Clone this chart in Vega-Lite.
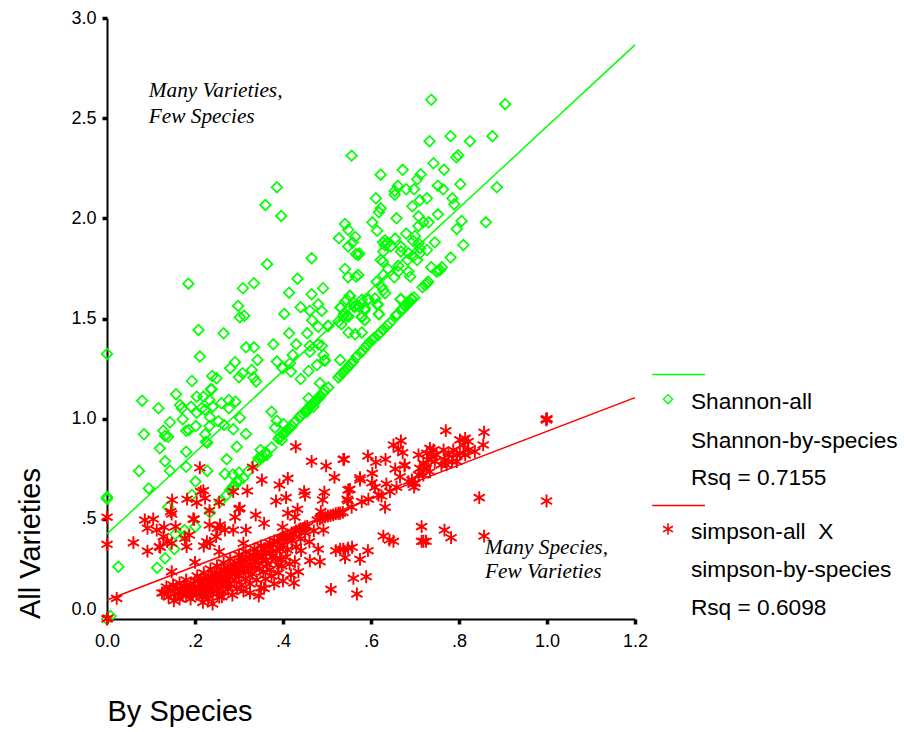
{"$schema":"https://vega.github.io/schema/vega-lite/v6.json","width":528,"height":601,"autosize":"none","padding":{"left":107,"top":18,"right":269,"bottom":113},"background":"white","config":{"view":{"stroke":null}},
"datasets":{
"fitGreen":[{"x":0,"y":0.424},{"x":1.2,"y":2.866}],
"fitRed":[{"x":0,"y":0.095},{"x":1.2,"y":1.105}],
"keyGreen":[{"x":1.239,"y":1.22},{"x":1.359,"y":1.22}],
"keyRed":[{"x":1.239,"y":0.567},{"x":1.359,"y":0.567}],
"keyGreenPt":[{"x":1.275,"y":1.097}],
"keyRedPt":[{"x":1.275,"y":0.449}],
"legendText":[{"x":1.327,"y":1.083,"t":"Shannon-all"},{"x":1.327,"y":0.889,"t":"Shannon-by-species"},{"x":1.327,"y":0.704,"t":"Rsq = 0.7155"},{"x":1.327,"y":0.434,"t":"simpson-all\u00a0 X"},{"x":1.327,"y":0.245,"t":"simpson-by-species"},{"x":1.327,"y":0.055,"t":"Rsq = 0.6098"}],
"notes":[{"x":0.095,"y":2.636,"t":"Many Varieties,"},{"x":0.095,"y":2.506,"t":"Few Species"},{"x":0.859,"y":0.354,"t":"Many Species,"},{"x":0.859,"y":0.235,"t":"Few Varieties"}],
"green":[{"x":0.737,"y":2.592},{"x":0.905,"y":2.57},{"x":0.876,"y":2.41},{"x":0.781,"y":2.41},{"x":0.733,"y":2.385},{"x":0.825,"y":2.385},{"x":0.798,"y":2.315},{"x":0.794,"y":2.305},{"x":0.556,"y":2.313},{"x":0.742,"y":2.275},{"x":0.672,"y":2.242},{"x":0.766,"y":2.242},{"x":0.622,"y":2.218},{"x":0.713,"y":2.22},{"x":0.705,"y":2.195},{"x":0.886,"y":2.155},{"x":0.803,"y":2.17},{"x":0.752,"y":2.163},{"x":0.764,"y":2.145},{"x":0.661,"y":2.162},{"x":0.654,"y":2.137},{"x":0.654,"y":2.118},{"x":0.68,"y":2.145},{"x":0.698,"y":2.145},{"x":0.611,"y":2.1},{"x":0.727,"y":2.1},{"x":0.711,"y":2.09},{"x":0.785,"y":2.1},{"x":0.789,"y":2.07},{"x":0.694,"y":2.06},{"x":0.622,"y":2.05},{"x":0.618,"y":2.03},{"x":0.752,"y":2.02},{"x":0.708,"y":2.01},{"x":0.658,"y":2.0},{"x":0.806,"y":1.987},{"x":0.861,"y":1.98},{"x":0.541,"y":1.972},{"x":0.548,"y":1.943},{"x":0.603,"y":1.98},{"x":0.614,"y":1.938},{"x":0.731,"y":1.98},{"x":0.719,"y":1.98},{"x":0.708,"y":1.962},{"x":0.795,"y":1.947},{"x":0.527,"y":1.9},{"x":0.564,"y":1.907},{"x":0.558,"y":1.879},{"x":0.548,"y":1.859},{"x":0.68,"y":1.924},{"x":0.7,"y":1.912},{"x":0.696,"y":1.887},{"x":0.708,"y":1.876},{"x":0.711,"y":1.851},{"x":0.655,"y":1.899},{"x":0.627,"y":1.88},{"x":0.632,"y":1.89},{"x":0.636,"y":1.875},{"x":0.645,"y":1.86},{"x":0.632,"y":1.865},{"x":0.745,"y":1.88},{"x":0.81,"y":1.867},{"x":0.668,"y":1.859},{"x":0.668,"y":1.834},{"x":0.727,"y":1.842},{"x":0.711,"y":1.826},{"x":0.696,"y":1.809},{"x":0.705,"y":1.792},{"x":0.628,"y":1.834},{"x":0.622,"y":1.792},{"x":0.627,"y":1.784},{"x":0.781,"y":1.804},{"x":0.685,"y":1.826},{"x":0.683,"y":1.792},{"x":0.571,"y":1.817},{"x":0.566,"y":1.822},{"x":0.573,"y":1.825},{"x":0.541,"y":1.747},{"x":0.737,"y":1.756},{"x":0.757,"y":1.742},{"x":0.749,"y":1.734},{"x":0.761,"y":1.756},{"x":0.753,"y":1.738},{"x":0.662,"y":1.763},{"x":0.662,"y":1.734},{"x":0.639,"y":1.747},{"x":0.685,"y":1.734},{"x":0.689,"y":1.709},{"x":0.571,"y":1.717},{"x":0.566,"y":1.709},{"x":0.548,"y":1.706},{"x":0.628,"y":1.717},{"x":0.653,"y":1.706},{"x":0.73,"y":1.684},{"x":0.723,"y":1.667},{"x":0.717,"y":1.656},{"x":0.727,"y":1.675},{"x":0.613,"y":1.684},{"x":0.624,"y":1.659},{"x":0.632,"y":1.626},{"x":0.628,"y":1.642},{"x":0.552,"y":1.612},{"x":0.541,"y":1.584},{"x":0.531,"y":1.554},{"x":0.539,"y":1.526},{"x":0.594,"y":1.596},{"x":0.609,"y":1.6},{"x":0.615,"y":1.568},{"x":0.618,"y":1.521},{"x":0.561,"y":1.559},{"x":0.573,"y":1.559},{"x":0.586,"y":1.543},{"x":0.579,"y":1.506},{"x":0.545,"y":1.513},{"x":0.667,"y":1.596},{"x":0.692,"y":1.598},{"x":0.685,"y":1.584},{"x":0.677,"y":1.568},{"x":0.67,"y":1.546},{"x":0.658,"y":1.518},
{"x":0.386,"y":2.155},{"x":0.36,"y":2.067},{"x":0.396,"y":2.012},{"x":0.185,"y":1.674},{"x":0.364,"y":1.771},{"x":0.465,"y":1.801},{"x":0.433,"y":1.699},{"x":0.334,"y":1.676},{"x":0.309,"y":1.651},{"x":0.414,"y":1.629},{"x":0.465,"y":1.621},{"x":0.491,"y":1.651},{"x":0.298,"y":1.563},{"x":0.312,"y":1.514},{"x":0.302,"y":1.506},{"x":0.44,"y":1.556},{"x":0.48,"y":1.571},{"x":0.461,"y":1.539},{"x":0.488,"y":1.538},{"x":0.403,"y":1.523},{"x":0.466,"y":1.491},{"x":0.48,"y":1.459},{"x":0.208,"y":1.443},{"x":0.265,"y":1.426},{"x":0.414,"y":1.426},{"x":0.455,"y":1.426},{"x":0.502,"y":1.464},{"x":0.316,"y":1.356},{"x":0.334,"y":1.356},{"x":0.378,"y":1.371},{"x":0.43,"y":1.371},{"x":0.461,"y":1.364},{"x":0.48,"y":1.371},{"x":0.488,"y":1.364},{"x":0.211,"y":1.31},{"x":0.422,"y":1.318},{"x":0.461,"y":1.334},{"x":0,"y":1.323},{"x":0.492,"y":1.318},{"x":0.495,"y":1.293},{"x":0.477,"y":1.268},{"x":0.458,"y":1.238},{"x":0.416,"y":1.277},{"x":0.418,"y":1.235},{"x":0.399,"y":1.252},{"x":0.386,"y":1.285},{"x":0.44,"y":1.198},{"x":0.342,"y":1.293},{"x":0.329,"y":1.243},{"x":0.333,"y":1.205},{"x":0.339,"y":1.185},{"x":0.308,"y":1.227},{"x":0.3,"y":1.207},{"x":0.28,"y":1.252},{"x":0.291,"y":1.282},{"x":0.249,"y":1.202},{"x":0.239,"y":1.213},{"x":0.236,"y":1.147},{"x":0.193,"y":1.188},{"x":0.157,"y":1.122},{"x":0.08,"y":1.09},{"x":0.117,"y":1.052},{"x":0.143,"y":0.982},{"x":0.128,"y":0.94},{"x":0.132,"y":0.914},{"x":0.139,"y":0.91},{"x":0.084,"y":0.922},{"x":0.12,"y":0.852},{"x":0.18,"y":0.94},{"x":0.186,"y":0.944},{"x":0.202,"y":0.963},{"x":0.172,"y":0.997},{"x":0.166,"y":1.068},{"x":0.17,"y":1.052},{"x":0.191,"y":1.06},{"x":0.204,"y":1.11},{"x":0.204,"y":1.03},{"x":0.219,"y":1.11},{"x":0.223,"y":1.045},{"x":0.215,"y":1.052},{"x":0.233,"y":1.093},{"x":0.238,"y":1.147},{"x":0.234,"y":1.007},{"x":0.233,"y":0.963},{"x":0.24,"y":1.06},{"x":0.253,"y":0.987},{"x":0.26,"y":1.077},{"x":0.277,"y":1.093},{"x":0.277,"y":1.052},{"x":0.292,"y":1.085},{"x":0.266,"y":0.968},{"x":0.223,"y":0.922},{"x":0.225,"y":0.885},{"x":0.228,"y":0.88},{"x":0.287,"y":0.947},{"x":0.302,"y":1.005},{"x":0.316,"y":0.924},{"x":0.295,"y":0.86},{"x":0.272,"y":0.797},{"x":0.18,"y":0.835},{"x":0.132,"y":0.787},{"x":0.143,"y":0.74},{"x":0.18,"y":0.76},{"x":0.073,"y":0.739},{"x":0.095,"y":0.652},{"x":0.228,"y":0.739},{"x":0.268,"y":0.724},{"x":0.201,"y":0.686},{"x":0.286,"y":0.721},{"x":0.3,"y":0.731},{"x":0.31,"y":0.705},{"x":0.295,"y":0.686},{"x":0.287,"y":0.664},{"x":0.272,"y":0.619},{"x":0.257,"y":0.586},{"x":0.234,"y":0.531},{"x":0.193,"y":0.619},{"x":0,"y":0.609},{"x":0,"y":0.6},{"x":0.139,"y":0.558},{"x":0.201,"y":0.461},{"x":0.176,"y":0.444},{"x":0.155,"y":0.423},{"x":0.176,"y":0.414},{"x":0.153,"y":0.349},{"x":0.132,"y":0.303},{"x":0.114,"y":0.256},{"x":0.026,"y":0.261},{"x":0.008,"y":0.015},{"x":0,"y":0},
{"x":0.344,"y":0.802},{"x":0.355,"y":0.81},{"x":0.349,"y":0.844},{"x":0.363,"y":0.819},{"x":0.374,"y":0.856},{"x":0.397,"y":0.894},{"x":0.393,"y":0.91},{"x":0.402,"y":0.924},{"x":0.401,"y":0.974},{"x":0.386,"y":0.99},{"x":0.382,"y":0.955},{"x":0.42,"y":0.963},{"x":0.374,"y":1.035},{"x":0.458,"y":1.102},{"x":0.439,"y":1.01},{"x":0.454,"y":1.035},{"x":0.469,"y":1.06},{"x":0.484,"y":1.177},{"x":0.503,"y":1.155},{"x":0.484,"y":1.11},{"x":0.477,"y":1.093},
{"x":0.552,"y":1.614},{"x":0.531,"y":1.556},{"x":0.545,"y":1.593},{"x":0.564,"y":1.56},{"x":0.56,"y":1.579},{"x":0.579,"y":1.593},{"x":0.593,"y":1.593},{"x":0.615,"y":1.573},{"x":0.618,"y":1.523},{"x":0.586,"y":1.551},{"x":0.579,"y":1.51},{"x":0.586,"y":1.493},{"x":0.549,"y":1.51},{"x":0.537,"y":1.513},{"x":0.526,"y":1.484},{"x":0.533,"y":1.471},{"x":0.503,"y":1.463},{"x":0.549,"y":1.43},{"x":0.564,"y":1.421},{"x":0.579,"y":1.43},{"x":0.53,"y":1.293},{"x":0.495,"y":1.288},{"x":0.668,"y":1.597},{"x":0.657,"y":1.513},
{"x":0.526,"y":1.206},{"x":0.53,"y":1.216},{"x":0.535,"y":1.228},{"x":0.54,"y":1.24},{"x":0.545,"y":1.25},{"x":0.55,"y":1.262},{"x":0.555,"y":1.275},{"x":0.56,"y":1.287},{"x":0.567,"y":1.31},{"x":0.577,"y":1.33},{"x":0.582,"y":1.343},{"x":0.587,"y":1.355},{"x":0.592,"y":1.37},{"x":0.597,"y":1.382},{"x":0.602,"y":1.392},{"x":0.607,"y":1.403},{"x":0.617,"y":1.42},{"x":0.622,"y":1.431},{"x":0.627,"y":1.444},{"x":0.637,"y":1.465},{"x":0.643,"y":1.478},{"x":0.66,"y":1.52},{"x":0.673,"y":1.548},{"x":0.678,"y":1.56},{"x":0.683,"y":1.572},{"x":0.688,"y":1.583},{"x":0.693,"y":1.594},{"x":0.698,"y":1.605},{"x":0.39,"y":0.9},{"x":0.395,"y":0.91},{"x":0.4,"y":0.922},{"x":0.405,"y":0.93},{"x":0.41,"y":0.945},{"x":0.415,"y":0.955},{"x":0.425,"y":0.98},{"x":0.44,"y":1.015},{"x":0.445,"y":1.025},{"x":0.45,"y":1.035},{"x":0.455,"y":1.047},{"x":0.46,"y":1.06},{"x":0.465,"y":1.07},{"x":0.47,"y":1.08},{"x":0.475,"y":1.093},{"x":0.48,"y":1.105},{"x":0.485,"y":1.115},{"x":0.49,"y":1.127},{"x":0.495,"y":1.14},{"x":0.28,"y":0.644},{"x":0.285,"y":0.655},{"x":0.29,"y":0.667},{"x":0.3,"y":0.69},{"x":0.32,"y":0.736},{"x":0.34,"y":0.78},{"x":0.35,"y":0.805},{"x":0.36,"y":0.83}],
"red":[{"x":0.429,"y":0.86},{"x":0.465,"y":0.787},{"x":0.498,"y":0.764},{"x":0.537,"y":0.797},{"x":0.517,"y":0.707},{"x":0.411,"y":0.702},{"x":0.392,"y":0.669},{"x":0.352,"y":0.694},{"x":0.331,"y":0.757},{"x":0.211,"y":0.755},{"x":0.448,"y":0.636},{"x":0.45,"y":0.619},{"x":0.494,"y":0.633},{"x":0.49,"y":0.594},{"x":0.548,"y":0.644},{"x":0.548,"y":0.59},{"x":0.407,"y":0.606},{"x":0.384,"y":0.589},{"x":0.319,"y":0.639},{"x":0.287,"y":0.636},{"x":0.219,"y":0.641},{"x":0.213,"y":0.636},{"x":0.223,"y":0.603},{"x":0.204,"y":0.581},{"x":0.148,"y":0.594},{"x":0.182,"y":0.598},{"x":0.255,"y":0.583},{"x":0.233,"y":0.541},{"x":0.3,"y":0.549},{"x":0.291,"y":0.508},{"x":0.302,"y":0.553},{"x":0.433,"y":0.548},{"x":0.411,"y":0.528},{"x":0.427,"y":0.508},{"x":0.145,"y":0.536},{"x":0.147,"y":0.524},{"x":0.338,"y":0.519},{"x":0.357,"y":0.478},{"x":0.196,"y":0.499},{"x":0.198,"y":0.498},{"x":0.086,"y":0.494},{"x":0.105,"y":0.499},{"x":0.092,"y":0.453},{"x":0.113,"y":0.444},{"x":0.13,"y":0.458},{"x":0.156,"y":0.461},{"x":0.233,"y":0.469},{"x":0.257,"y":0.469},{"x":0.251,"y":0.453},{"x":0.268,"y":0.444},{"x":0.287,"y":0.444},{"x":0.316,"y":0.444},{"x":0.399,"y":0.458},{"x":0.486,"y":0.536},{"x":0.492,"y":0.444},{"x":0.06,"y":0.381},{"x":0.092,"y":0.339},{"x":0.119,"y":0.361},{"x":0.121,"y":0.358},{"x":0.128,"y":0.411},{"x":0.137,"y":0.386},{"x":0.147,"y":0.378},{"x":0.181,"y":0.361},{"x":0.187,"y":0.419},{"x":0.177,"y":0.403},{"x":0.248,"y":0.411},{"x":0.227,"y":0.386},{"x":0.234,"y":0.378},{"x":0.22,"y":0.364},{"x":0.255,"y":0.336},{"x":0.31,"y":0.378},{"x":0.2,"y":0.283},{"x":0.147,"y":0.236},{"x":0.441,"y":0.341},{"x":0.48,"y":0.349},{"x":0.52,"y":0.341},{"x":0.53,"y":0.348},{"x":0.548,"y":0.353},{"x":0.461,"y":0.291},{"x":0.484,"y":0.286},{"x":0.427,"y":0.286},{"x":0.435,"y":0.236},{"x":0.418,"y":0.22},{"x":0.406,"y":0.308},{"x":0.374,"y":0.215},{"x":0.389,"y":0.27},{"x":0.397,"y":0.265},{"x":0.509,"y":0.148},{"x":0.357,"y":0.153},{"x":0.13,"y":0.131},{"x":0.152,"y":0.091},{"x":0.218,"y":0.083},{"x":0.261,"y":0.111},{"x":0.998,"y":0.997},{"x":1,"y":1.0},{"x":0.999,"y":0.994},{"x":0.999,"y":0.589},{"x":0.846,"y":0.606},{"x":0.857,"y":0.932},{"x":0.77,"y":0.94},{"x":0.855,"y":0.869},{"x":0.857,"y":0.414},{"x":0.767,"y":0.444},{"x":0.782,"y":0.406},{"x":0.715,"y":0.461},{"x":0.715,"y":0.388},{"x":0.725,"y":0.388},{"x":0.719,"y":0.388},{"x":0.628,"y":0.414},{"x":0.642,"y":0.394},{"x":0.651,"y":0.388},{"x":0.557,"y":0.358},{"x":0.537,"y":0.348},{"x":0.541,"y":0.306},{"x":0.575,"y":0.298},{"x":0.593,"y":0.341},{"x":0.56,"y":0.203},{"x":0.589,"y":0.211},{"x":0.568,"y":0.125},{"x":0.632,"y":0.558},{"x":0.539,"y":0.797},{"x":0.593,"y":0.814},{"x":0.611,"y":0.782},{"x":0.633,"y":0.797},{"x":0.655,"y":0.749},{"x":0.676,"y":0.765},{"x":0.603,"y":0.727},{"x":0.575,"y":0.705},{"x":0.575,"y":0.694},{"x":0.602,"y":0.68},{"x":0.609,"y":0.657},{"x":0.635,"y":0.674},{"x":0.552,"y":0.647},{"x":0.546,"y":0.598},{"x":0.666,"y":0.71},{"x":0.53,"y":0.528},{"x":0.556,"y":0.558},{"x":0.579,"y":0.586},{"x":0.594,"y":0.598},{"x":0.617,"y":0.619},{"x":0.624,"y":0.614},{"x":0.643,"y":0.636},{"x":0.658,"y":0.658},{"x":0.693,"y":0.694},{"x":0.698,"y":0.658},{"x":0.685,"y":0.686},{"x":0.7,"y":0.677},{"x":0.651,"y":0.869},{"x":0.668,"y":0.889},{"x":0.662,"y":0.847},{"x":0.672,"y":0.83},{"x":0.708,"y":0.819},{"x":0.677,"y":0.769},{"x":0.734,"y":0.852},{"x":0.742,"y":0.844},{"x":0.727,"y":0.827},{"x":0.738,"y":0.81},{"x":0.749,"y":0.819},{"x":0.73,"y":0.794},{"x":0.719,"y":0.777},{"x":0.745,"y":0.786},{"x":0.711,"y":0.752},{"x":0.726,"y":0.752},{"x":0.734,"y":0.735},{"x":0.708,"y":0.719},{"x":0.719,"y":0.719},{"x":0.765,"y":0.844},{"x":0.776,"y":0.819},{"x":0.787,"y":0.844},{"x":0.795,"y":0.819},{"x":0.768,"y":0.794},{"x":0.784,"y":0.786},{"x":0.795,"y":0.786},{"x":0.76,"y":0.769},{"x":0.772,"y":0.769},{"x":0.802,"y":0.894},{"x":0.814,"y":0.902},{"x":0.821,"y":0.886},{"x":0.81,"y":0.869},{"x":0.821,"y":0.844},{"x":0.836,"y":0.836},{"x":0.802,"y":0.827},{"x":0.814,"y":0.819},{"x":0,"y":0.508},{"x":0,"y":0.373},{"x":0.022,"y":0.103},{"x":0,"y":0},{"x":0.002,"y":0.005},
{"x":0.41,"y":0.42},{"x":0.415,"y":0.41},{"x":0.42,"y":0.43},{"x":0.425,"y":0.425},{"x":0.43,"y":0.44},{"x":0.436,"y":0.445},{"x":0.44,"y":0.45},{"x":0.446,"y":0.452},{"x":0.45,"y":0.46},{"x":0.455,"y":0.462},{"x":0.478,"y":0.494},{"x":0.484,"y":0.5},{"x":0.49,"y":0.505},{"x":0.496,"y":0.51},{"x":0.502,"y":0.514},{"x":0.508,"y":0.516},{"x":0.514,"y":0.52},{"x":0.52,"y":0.526},{"x":0.526,"y":0.528},{"x":0.536,"y":0.532},
{"x":0.125,"y":0.13},{"x":0.135,"y":0.16},{"x":0.14,"y":0.11},{"x":0.145,"y":0.14},{"x":0.15,"y":0.17},{"x":0.155,"y":0.125},{"x":0.16,"y":0.15},{"x":0.165,"y":0.1},{"x":0.165,"y":0.18},{"x":0.17,"y":0.135},{"x":0.175,"y":0.16},{"x":0.18,"y":0.115},{"x":0.18,"y":0.195},{"x":0.185,"y":0.145},{"x":0.19,"y":0.17},{"x":0.19,"y":0.1},{"x":0.195,"y":0.125},{"x":0.2,"y":0.155},{"x":0.2,"y":0.19},{"x":0.205,"y":0.215},{"x":0.21,"y":0.135},{"x":0.21,"y":0.175},{"x":0.215,"y":0.11},{"x":0.215,"y":0.2},{"x":0.22,"y":0.15},{"x":0.22,"y":0.23},{"x":0.225,"y":0.125},{"x":0.225,"y":0.18},{"x":0.23,"y":0.21},{"x":0.23,"y":0.1},{"x":0.235,"y":0.15},{"x":0.235,"y":0.25},{"x":0.24,"y":0.19},{"x":0.24,"y":0.125},{"x":0.245,"y":0.17},{"x":0.245,"y":0.225},{"x":0.25,"y":0.14},{"x":0.25,"y":0.265},{"x":0.255,"y":0.2},{"x":0.255,"y":0.11},{"x":0.26,"y":0.165},{"x":0.26,"y":0.24},{"x":0.265,"y":0.135},{"x":0.265,"y":0.28},{"x":0.27,"y":0.19},{"x":0.27,"y":0.215},{"x":0.275,"y":0.255},{"x":0.275,"y":0.15},{"x":0.28,"y":0.3},{"x":0.28,"y":0.175},{"x":0.285,"y":0.225},{"x":0.285,"y":0.12},{"x":0.29,"y":0.27},{"x":0.29,"y":0.195},{"x":0.295,"y":0.245},{"x":0.295,"y":0.15},{"x":0.3,"y":0.32},{"x":0.3,"y":0.215},{"x":0.305,"y":0.17},{"x":0.305,"y":0.285},{"x":0.31,"y":0.24},{"x":0.31,"y":0.14},{"x":0.315,"y":0.335},{"x":0.315,"y":0.2},{"x":0.32,"y":0.265},{"x":0.325,"y":0.3},{"x":0.325,"y":0.175},{"x":0.33,"y":0.225},{"x":0.335,"y":0.35},{"x":0.335,"y":0.255},{"x":0.34,"y":0.195},{"x":0.34,"y":0.31},{"x":0.345,"y":0.28},{"x":0.35,"y":0.155},{"x":0.35,"y":0.365},{"x":0.355,"y":0.235},{"x":0.36,"y":0.33},{"x":0.36,"y":0.2},{"x":0.365,"y":0.275},{"x":0.37,"y":0.38},{"x":0.37,"y":0.245},{"x":0.375,"y":0.31},{"x":0.38,"y":0.39},{"x":0.38,"y":0.175},{"x":0.385,"y":0.34},{"x":0.39,"y":0.23},{"x":0.395,"y":0.4},{"x":0.395,"y":0.3},{"x":0.4,"y":0.37},{"x":0.405,"y":0.41},{"x":0.41,"y":0.345},{"x":0.415,"y":0.275},{"x":0.42,"y":0.39},{"x":0.43,"y":0.36},{"x":0.44,"y":0.4},{"x":0.45,"y":0.43},{"x":0.46,"y":0.385},{"x":0.47,"y":0.44},{"x":0.425,"y":0.18},{"x":0.4,"y":0.19},{"x":0.345,"y":0.115},{"x":0.325,"y":0.13},{"x":0.24,"y":0.075},
{"x":0.172,"y":0.12},{"x":0.178,"y":0.145},{"x":0.188,"y":0.13},{"x":0.197,"y":0.15},{"x":0.203,"y":0.125},{"x":0.207,"y":0.16},{"x":0.213,"y":0.148},{"x":0.218,"y":0.17},{"x":0.222,"y":0.2},{"x":0.227,"y":0.155},{"x":0.232,"y":0.175},{"x":0.238,"y":0.21},{"x":0.243,"y":0.145},{"x":0.247,"y":0.2},{"x":0.252,"y":0.18},{"x":0.257,"y":0.225},{"x":0.262,"y":0.195},{"x":0.267,"y":0.24},{"x":0.272,"y":0.17},{"x":0.277,"y":0.21},{"x":0.282,"y":0.245},{"x":0.287,"y":0.26},{"x":0.292,"y":0.225},{"x":0.297,"y":0.275},{"x":0.302,"y":0.245},{"x":0.307,"y":0.3},{"x":0.312,"y":0.265},{"x":0.317,"y":0.31},{"x":0.322,"y":0.235},{"x":0.327,"y":0.27},{"x":0.332,"y":0.32},{"x":0.337,"y":0.29},{"x":0.342,"y":0.335},{"x":0.347,"y":0.25},{"x":0.352,"y":0.31},{"x":0.357,"y":0.35},{"x":0.362,"y":0.29},{"x":0.367,"y":0.36},{"x":0.372,"y":0.33},{"x":0.377,"y":0.37},{"x":0.383,"y":0.3},{"x":0.388,"y":0.385},{"x":0.393,"y":0.35},{"x":0.4,"y":0.405}]
},
"layer":[
{"data":{"name":"green"},"mark":{"type":"point","shape":"diamond","filled":false,"color":"#00ff00","size":112,"strokeWidth":1.7,"opacity":1,"clip":false},"encoding":{"x":{"field":"x","type":"quantitative","scale":{"domain":[0,1.2],"nice":false,"zero":false},"axis":{"title":"By Species","titleFont":"Liberation Sans","titleFontSize":29,"titleFontWeight":"normal","titleColor":"#000","titleAnchor":"start","titleAlign":"left","titleBaseline":"middle","titleX":0,"titleY":92,"values":[0,0.2,0.4,0.6,0.8,1,1.2],"labelFont":"Liberation Sans","labelFontSize":18,"labelColor":"#000","labelPadding":8,"labelFlush":false,"domainColor":"#000","domainWidth":2,"tickColor":"#000","tickSize":5,"tickWidth":3.5,"tickOpacity":{"condition":{"test":"datum.value==0","value":0},"value":1},"grid":false,"labelExpr":"datum.value==0?'0.0':datum.value<1?substring(format(datum.value,'.1f'),1):format(datum.value,'.1f')"}},"y":{"field":"y","type":"quantitative","scale":{"domain":[0,3],"nice":false,"zero":false},"axis":{"title":"All Varieties","titleFont":"Liberation Sans","titleFontSize":29,"titleFontWeight":"normal","titleColor":"#000","titleAngle":-90,"titleAnchor":"start","titleAlign":"center","titleBaseline":"middle","titleX":-77,"titleY":525,"values":[0,0.5,1,1.5,2,2.5,3],"labelFont":"Liberation Sans","labelFontSize":18,"labelColor":"#000","labelPadding":6,"labelFlush":false,"labelOffset":{"condition":{"test":"datum.value==0","value":-10},"value":0},"domainColor":"#000","domainWidth":2,"tickColor":"#000","tickSize":5,"tickWidth":3.5,"tickOpacity":{"condition":{"test":"datum.value==0","value":0},"value":1},"grid":false,"labelExpr":"datum.value==0?'0.0':datum.value<1?substring(format(datum.value,'.1f'),1):format(datum.value,'.1f')"}}}},
{"data":{"name":"fitGreen"},"mark":{"type":"line","color":"#00ff00","strokeWidth":1.5,"clip":false},"encoding":{"x":{"field":"x","type":"quantitative"},"y":{"field":"y","type":"quantitative"}}},
{"data":{"name":"red"},"mark":{"type":"point","shape":"M0,-1L0,1M-0.87,-0.5L0.87,0.5M-0.87,0.5L0.87,-0.5","filled":false,"color":"#ff0000","size":165,"strokeWidth":1.9,"opacity":1,"clip":false},"encoding":{"x":{"field":"x","type":"quantitative"},"y":{"field":"y","type":"quantitative"}}},
{"data":{"name":"fitRed"},"mark":{"type":"line","color":"#ff0000","strokeWidth":1.5,"clip":false},"encoding":{"x":{"field":"x","type":"quantitative"},"y":{"field":"y","type":"quantitative"}}},
{"data":{"name":"keyGreen"},"mark":{"type":"line","color":"#00ff00","strokeWidth":1.5,"clip":false},"encoding":{"x":{"field":"x","type":"quantitative"},"y":{"field":"y","type":"quantitative"}}},
{"data":{"name":"keyRed"},"mark":{"type":"line","color":"#ff0000","strokeWidth":1.5,"clip":false},"encoding":{"x":{"field":"x","type":"quantitative"},"y":{"field":"y","type":"quantitative"}}},
{"data":{"name":"keyGreenPt"},"mark":{"type":"point","shape":"diamond","filled":false,"color":"#00ff00","size":85,"strokeWidth":1.4,"opacity":1,"clip":false},"encoding":{"x":{"field":"x","type":"quantitative"},"y":{"field":"y","type":"quantitative"}}},
{"data":{"name":"keyRedPt"},"mark":{"type":"point","shape":"M0,-1L0,1M-0.87,-0.5L0.87,0.5M-0.87,0.5L0.87,-0.5","filled":false,"color":"#ff0000","size":130,"strokeWidth":1.6,"opacity":1,"clip":false},"encoding":{"x":{"field":"x","type":"quantitative"},"y":{"field":"y","type":"quantitative"}}},
{"data":{"name":"legendText"},"mark":{"type":"text","align":"left","baseline":"middle","font":"Liberation Sans","fontSize":22.7,"color":"#000","clip":false},"encoding":{"x":{"field":"x","type":"quantitative"},"y":{"field":"y","type":"quantitative"},"text":{"field":"t"}}},
{"data":{"name":"notes"},"mark":{"type":"text","align":"left","baseline":"middle","font":"Liberation Serif","fontStyle":"italic","fontSize":21.3,"color":"#000","clip":false},"encoding":{"x":{"field":"x","type":"quantitative"},"y":{"field":"y","type":"quantitative"},"text":{"field":"t"}}}
]}
